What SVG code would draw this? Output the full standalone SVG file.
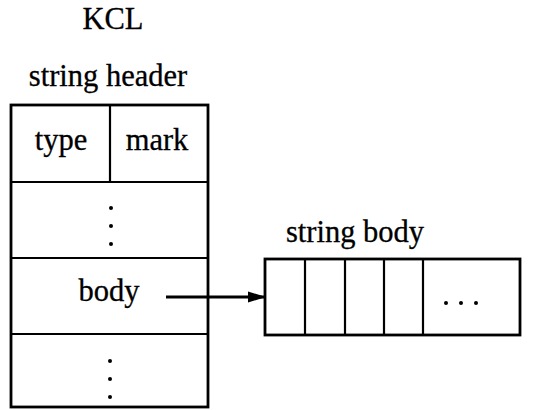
<svg xmlns="http://www.w3.org/2000/svg" width="536" height="410" viewBox="0 0 536 410">
<style>
text{font-family:"Liberation Serif","Times New Roman",serif;font-size:30.5px;fill:#000;text-anchor:middle;stroke:#000;stroke-width:0.3}
.box{fill:none;stroke:#000;stroke-width:2.8}
.ln{stroke:#000;stroke-width:2.2}
.dot{fill:#000}
</style>
<defs>
<marker id="ah" markerWidth="18" markerHeight="12" refX="17" refY="6" orient="auto" markerUnits="userSpaceOnUse">
<path d="M0,0.5 L18,6 L0,11.5 Z" fill="#000"/>
</marker>
</defs>
<rect width="536" height="410" fill="#fff"/>
<text x="113" y="29">KCL</text>
<text x="108" y="86">string header</text>
<text x="355" y="242">string body</text>
<g id="header">
<rect class="box" x="11" y="105" width="197" height="302"/>
<line class="ln" x1="110" y1="105" x2="110" y2="182"/>
<line class="ln" x1="11" y1="182" x2="208" y2="182"/>
<line class="ln" x1="11" y1="258" x2="208" y2="258"/>
<line class="ln" x1="11" y1="334" x2="208" y2="334"/>
<text x="61" y="150">type</text>
<text x="157" y="150">mark</text>
<circle class="dot" cx="111" cy="208" r="2"/>
<circle class="dot" cx="111" cy="226" r="2"/>
<circle class="dot" cx="111" cy="244" r="2"/>
<text x="109" y="301">body</text>
<circle class="dot" cx="110" cy="361" r="2"/>
<circle class="dot" cx="110" cy="379" r="2"/>
<circle class="dot" cx="110" cy="397" r="2"/>
</g>
<g id="body">
<rect class="box" x="265" y="259" width="255" height="76"/>
<line class="ln" x1="305" y1="259" x2="305" y2="335"/>
<line class="ln" x1="345" y1="259" x2="345" y2="335"/>
<line class="ln" x1="384" y1="259" x2="384" y2="335"/>
<line class="ln" x1="423" y1="259" x2="423" y2="335"/>
<circle class="dot" cx="446" cy="303" r="2"/>
<circle class="dot" cx="461" cy="303" r="2"/>
<circle class="dot" cx="476" cy="303" r="2"/>
</g>
<g id="connectors">
<line x1="166" y1="297" x2="265" y2="297" stroke="#000" stroke-width="2.8" marker-end="url(#ah)"/>
</g>
</svg>
